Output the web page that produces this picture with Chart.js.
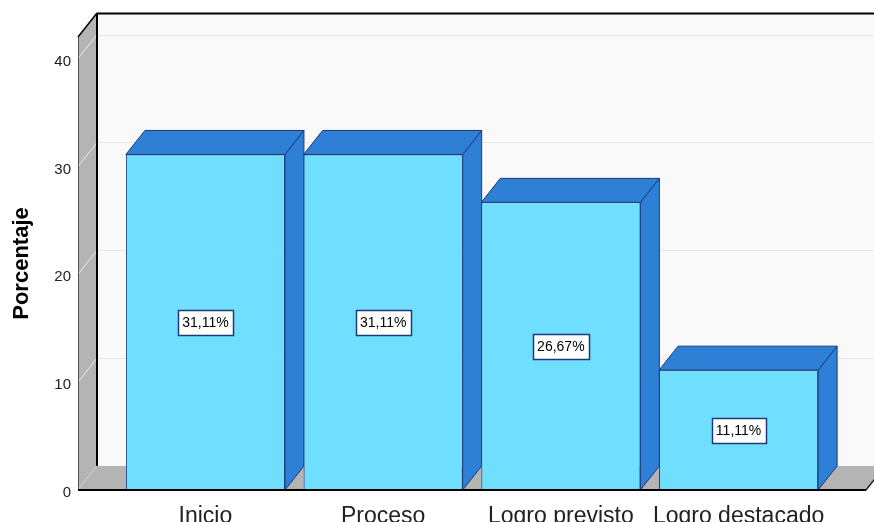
<!DOCTYPE HTML>
<html>
<head>
  <title>Porcentaje</title>
  <meta charset="utf-8">
  <script src="https://cdn.jsdelivr.net/npm/chart.js"></script>
  <style>
    html, body { margin: 0; padding: 0; background: #ffffff; overflow: hidden; }
    .chart-container { position: relative; width: 874px; height: 522px; }
  </style>
</head>
<body>
  <div class="chart-container">
    <canvas id="barChart"></canvas>
  </div>

  <script type="text/javascript">
    // data
    var categorias = ["Inicio", "Proceso", "Logro previsto", "Logro destacado"];
    var porcentajes = [31.11, 31.11, 26.67, 11.11];
    var yTicks = [0, 10, 20, 30, 40];

    var colors = {
      front: '#70dfff',
      face: '#2e7fd6',
      edge: '#1c3a78',
      wall: '#f9f9f9',
      side: '#b4b4b4',
      grid: '#e8e8e8'
    };

    // 3D depth offset: back plane = front plane shifted right DX and up DY
    var DX = 19, DY = 24;

    // the x axis is linear so the floor can run past the outer bars (SPSS style)
    var puntos = categorias.map(function (c, i) { return { x: i, y: porcentajes[i] }; });

    function poly(ctx, pts, fill, stroke, lw) {
      ctx.beginPath();
      ctx.moveTo(pts[0][0], pts[0][1]);
      for (var i = 1; i < pts.length; i++) ctx.lineTo(pts[i][0], pts[i][1]);
      ctx.closePath();
      if (fill) { ctx.fillStyle = fill; ctx.fill(); }
      if (stroke) { ctx.strokeStyle = stroke; ctx.lineWidth = lw || 1; ctx.stroke(); }
    }

    function line(ctx, x1, y1, x2, y2, color, lw) {
      ctx.beginPath();
      ctx.moveTo(x1, y1);
      ctx.lineTo(x2, y2);
      ctx.strokeStyle = color;
      ctx.lineWidth = lw || 1;
      ctx.stroke();
    }

    var box3d = {
      id: 'box3d',
      beforeDatasetsDraw: function (chart) {
        var ctx = chart.ctx;
        var a = chart.chartArea;
        var ys = chart.scales.y;
        var L = a.left, R = a.right, T = a.top, B = a.bottom;
        ctx.save();

        // back wall + grid
        poly(ctx, [[L + DX, T - DY], [R + DX, T - DY], [R + DX, B - DY], [L + DX, B - DY]], colors.wall);
        yTicks.forEach(function (v) {
          if (v === 0) return;
          var y = Math.round(ys.getPixelForValue(v) - DY) + 0.5;
          line(ctx, L + DX, y, R + DX, y, colors.grid, 1);
        });

        // left wall
        poly(ctx, [[L, T], [L + DX, T - DY], [L + DX, B - DY], [L, B]], colors.side);
        yTicks.forEach(function (v) {
          var y = ys.getPixelForValue(v);
          line(ctx, L, y, L + DX, y - DY, '#ececec', 1);
        });

        // floor
        poly(ctx, [[L, B], [L + DX, B - DY], [R + DX, B - DY], [R, B]], colors.side);

        // edges
        line(ctx, L + 0.5, T, L + 0.5, B, '#555555', 1);
        line(ctx, L, T, L + DX, T - DY, '#000000', 1.5);
        line(ctx, L + DX, T - DY + 0.5, R + DX, T - DY + 0.5, '#000000', 2);
        line(ctx, L + DX, T - DY, L + DX, B - DY, '#000000', 2);
        line(ctx, R, B, R + DX, B - DY, '#222222', 1.5);

        // top and side faces of each bar
        var meta = chart.getDatasetMeta(0);
        meta.data.forEach(function (bar) {
          var p = bar.getProps(['x', 'y', 'base', 'width'], true);
          var l = p.x - p.width / 2, r = p.x + p.width / 2;
          poly(ctx, [[r, p.y], [r + DX, p.y - DY], [r + DX, p.base - DY], [r, p.base]], colors.face, colors.edge, 1);
          poly(ctx, [[l, p.y], [l + DX, p.y - DY], [r + DX, p.y - DY], [r, p.y]], colors.face, colors.edge, 1);
        });
        ctx.restore();
      },
      afterDatasetsDraw: function (chart) {
        var ctx = chart.ctx;
        var a = chart.chartArea;
        ctx.save();
        line(ctx, a.left, a.bottom, a.right, a.bottom, '#000000', 2);

        // value boxes
        var meta = chart.getDatasetMeta(0);
        ctx.font = '14px "Liberation Sans", Arial, sans-serif';
        ctx.textAlign = 'center';
        ctx.textBaseline = 'middle';
        meta.data.forEach(function (bar, i) {
          var p = bar.getProps(['x', 'y', 'base'], true);
          var txt = porcentajes[i].toFixed(2).replace('.', ',') + '%';
          var w = Math.round(ctx.measureText(txt).width + 9), h = 25;
          var cy = (p.y + p.base) / 2;
          var bx = Math.round(p.x - w / 2) + 0.5, by = Math.round(cy - h / 2) + 0.5;
          ctx.fillStyle = '#ffffff';
          ctx.fillRect(bx, by, w, h);
          ctx.strokeStyle = colors.edge;
          ctx.lineWidth = 1.5;
          ctx.strokeRect(bx, by, w, h);
          ctx.fillStyle = '#000000';
          ctx.fillText(txt, p.x, cy + 1);
        });
        ctx.restore();
      }
    };

    var ctx_bar = document.getElementById('barChart');

    var barChart = new Chart(ctx_bar, {
      type: 'bar',
      data: {
        datasets: [
          {
            label: 'Porcentaje',
            data: puntos,
            backgroundColor: colors.front,
            borderColor: colors.edge,
            borderWidth: 1,
            categoryPercentage: 1.0,
            barPercentage: 0.895
          }
        ]
      },
      options: {
        responsive: true,
        maintainAspectRatio: false,
        animation: false,
        layout: { padding: { top: 37, right: 8, left: 0, bottom: 0 } },
        plugins: {
          legend: { display: false },
          tooltip: { enabled: false }
        },
        scales: {
          x: {
            type: 'linear',
            offset: false,
            min: -0.717,
            max: 3.717,
            grid: { display: false, drawTicks: false },
            border: { display: false },
            ticks: {
              stepSize: 1,
              includeBounds: false,
              autoSkip: false,
              maxRotation: 0,
              color: '#222222',
              padding: 13,
              font: { family: '"Liberation Sans", Arial, sans-serif', size: 23 },
              callback: function (value) {
                return Number.isInteger(value) && categorias[value] ? categorias[value] : '';
              }
            },
            afterFit: function (axis) { axis.height = 32; }
          },
          y: {
            min: 0,
            max: 42,
            grid: { display: false, drawTicks: false },
            border: { display: false },
            ticks: {
              stepSize: 10,
              includeBounds: false,
              padding: 7,
              labelOffset: 3,
              color: '#222222',
              font: { family: '"Liberation Sans", Arial, sans-serif', size: 15 }
            },
            title: {
              display: true,
              text: 'Porcentaje',
              color: '#000000',
              padding: { top: 9, bottom: 0 },
              font: { family: '"Liberation Sans", Arial, sans-serif', size: 22, weight: 'bold' }
            },
            afterFit: function (axis) { axis.width = 78; }
          }
        }
      },
      plugins: [box3d]
    });
  </script>
</body>
</html>
